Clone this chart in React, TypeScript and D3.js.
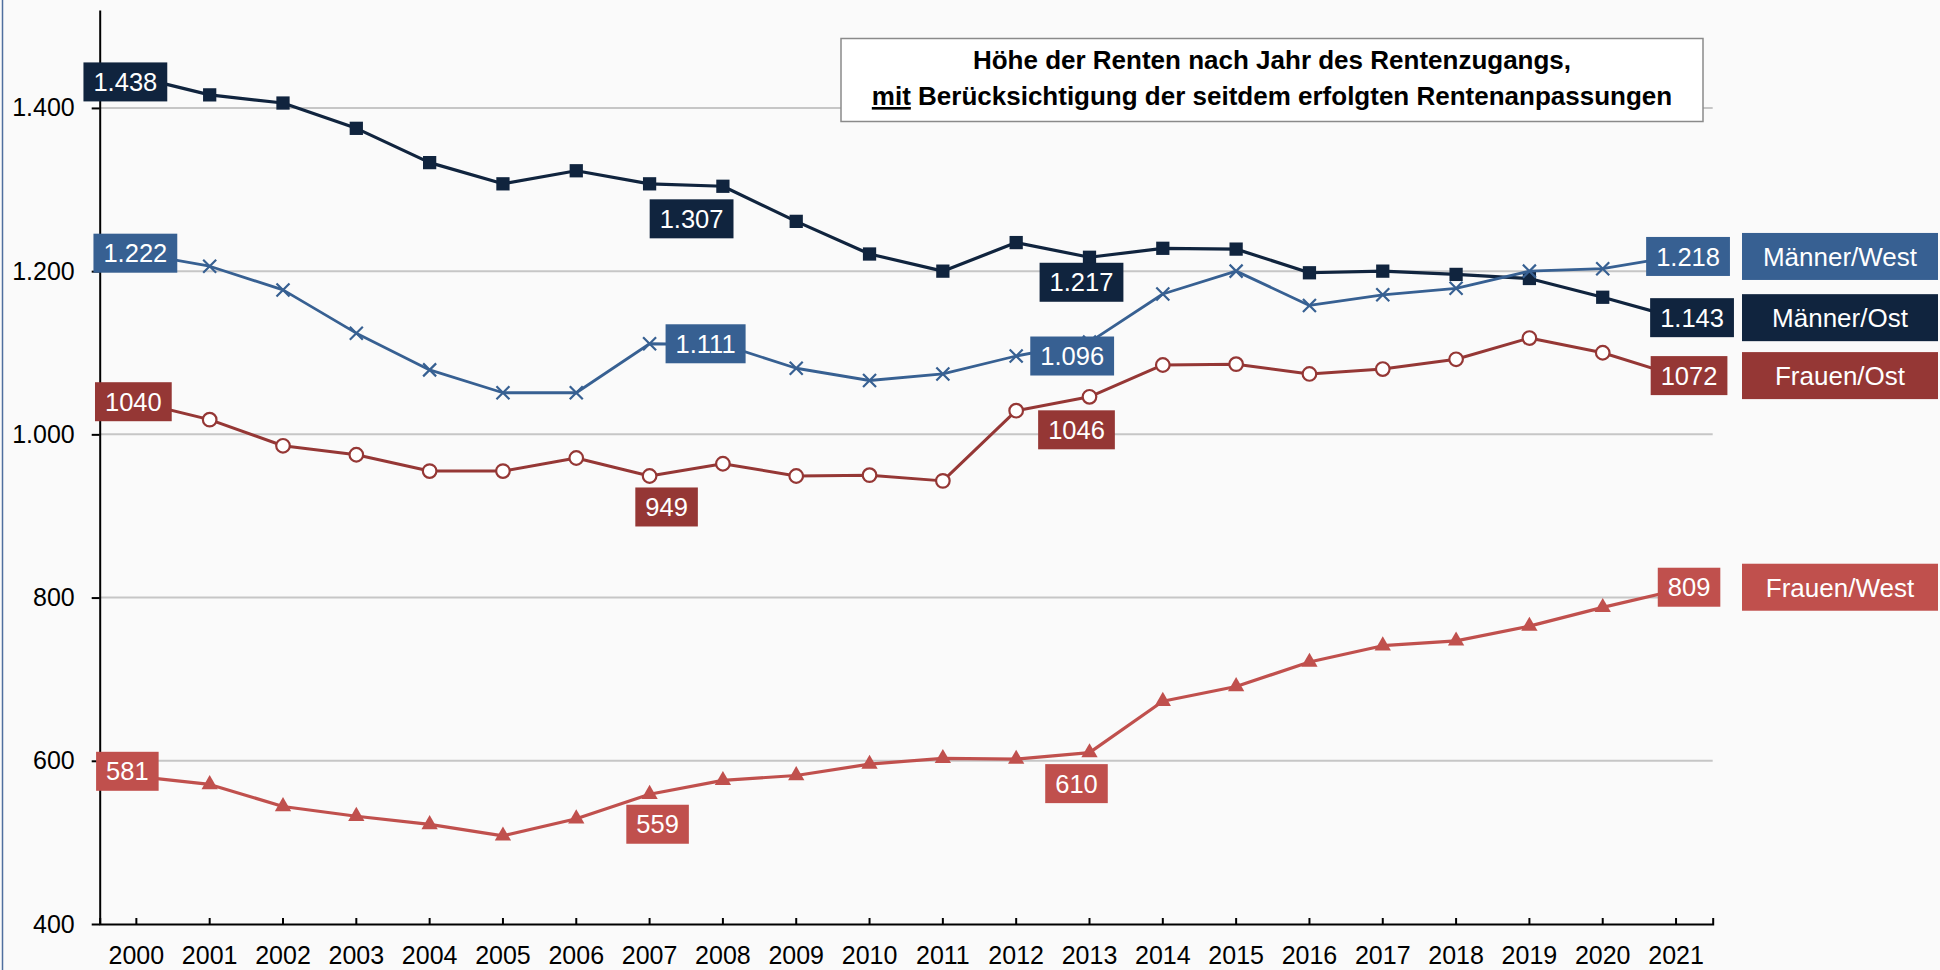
import { useEffect, useRef } from 'react';
import * as d3 from 'd3';

// Rentenzugänge 2000–2021, mit Rentenanpassungen (Euro/Monat)
const YEARS = [
  2000, 2001, 2002, 2003, 2004, 2005, 2006, 2007, 2008, 2009, 2010,
  2011, 2012, 2013, 2014, 2015, 2016, 2017, 2018, 2019, 2020, 2021,
];

const MAENNER_OST = [
  1438, 1416, 1406, 1375, 1333, 1307, 1323, 1307, 1304, 1261, 1221,
  1200, 1235, 1217, 1228, 1227, 1198, 1200, 1196, 1191, 1168, 1143,
];

const MAENNER_WEST = [
  1222, 1206, 1177, 1124, 1079, 1051, 1051, 1111, 1110, 1081, 1066,
  1074, 1096, 1113, 1172, 1200, 1158, 1171, 1179, 1200, 1203, 1218,
];

const FRAUEN_OST = [
  1040, 1018, 986, 975, 955, 955, 971, 949, 964, 949, 950,
  943, 1029, 1046, 1085, 1086, 1074, 1080, 1092, 1118, 1100, 1072,
];

const FRAUEN_WEST = [
  581, 571, 544, 532, 522, 508, 529, 559, 576, 582, 596,
  603, 602, 610, 673, 691, 721, 741, 747, 765, 788, 809,
];

const Y_TICKS = [400, 600, 800, 1000, 1200, 1400];

type Marker = 'square' | 'x' | 'circle' | 'triangle';

interface Series {
  key: string;
  name: string;
  values: number[];
  color: string;
  marker: Marker;
  lineWidth: number;
  grouped: boolean; // thousands separator in labels
}

const SERIES: Series[] = [
  { key: 'fw', name: 'Frauen/West', values: FRAUEN_WEST, color: '#C0504D', marker: 'triangle', lineWidth: 3.2, grouped: false },
  { key: 'fo', name: 'Frauen/Ost', values: FRAUEN_OST, color: '#953735', marker: 'circle', lineWidth: 3, grouped: false },
  { key: 'mo', name: 'Männer/Ost', values: MAENNER_OST, color: '#10243E', marker: 'square', lineWidth: 3.2, grouped: true },
  { key: 'mw', name: 'Männer/West', values: MAENNER_WEST, color: '#376092', marker: 'x', lineWidth: 2.8, grouped: true },
];

// data labels: which point, and how far the box sits from it
const LABELS = [
  { key: 'mo', year: 2000, dx: -11, dy: 5 },
  { key: 'mo', year: 2007, dx: 42, dy: 35 },
  { key: 'mo', year: 2013, dx: -8, dy: 25 },
  { key: 'mo', year: 2021, dx: 16, dy: 0 },
  { key: 'mw', year: 2000, dx: -1, dy: 0 },
  { key: 'mw', year: 2007, dx: 56, dy: 0 },
  { key: 'mw', year: 2012, dx: 56, dy: 0 },
  { key: 'mw', year: 2021, dx: 12, dy: 0 },
  { key: 'fo', year: 2000, dx: -3, dy: 0 },
  { key: 'fo', year: 2007, dx: 17, dy: 31 },
  { key: 'fo', year: 2013, dx: -13, dy: 33 },
  { key: 'fo', year: 2021, dx: 13, dy: 0 },
  { key: 'fw', year: 2000, dx: -9, dy: -5 },
  { key: 'fw', year: 2007, dx: 8, dy: 30 },
  { key: 'fw', year: 2013, dx: -13, dy: 31 },
  { key: 'fw', year: 2021, dx: 13, dy: -3 },
];

const LEGEND_ORDER = ['mw', 'mo', 'fo', 'fw'];

const WIDTH = 1940;
const HEIGHT = 970;
const FONT = '"Liberation Sans", Arial, sans-serif';

const de = d3.formatLocale({ decimal: ',', thousands: '.', grouping: [3], currency: ['', ' €'] });
const fmtGrouped = de.format(',d');
const fmtPlain = d3.format('d');

export default function App() {
  const svgRef = useRef<SVGSVGElement>(null);

  useEffect(() => {
    if (!svgRef.current) return;
    const svg = d3.select(svgRef.current);
    svg.selectAll('*').remove();

    const plot = { left: 99.7, right: 1712.7, top: 10, bottom: 924 };

    const x = d3.scaleBand<string>()
      .domain(YEARS.map(String))
      .range([plot.left, plot.right]);
    const cx = (yr: number) => (x(String(yr)) || 0) + x.bandwidth() / 2;

    const y = d3.scaleLinear().domain([400, 1520]).range([plot.bottom, plot.top]);

    // background
    svg.append('rect')
      .attr('width', WIDTH).attr('height', HEIGHT)
      .attr('fill', '#fafafa');
    svg.append('line')
      .attr('x1', 2.5).attr('x2', 2.5).attr('y1', 0).attr('y2', HEIGHT)
      .attr('stroke', '#4f6f9f').attr('stroke-width', 1.5);

    // grid
    svg.append('g')
      .selectAll('line')
      .data(Y_TICKS.filter(t => t > 400))
      .join('line')
      .attr('x1', plot.left).attr('x2', plot.right)
      .attr('y1', d => y(d)).attr('y2', d => y(d))
      .attr('stroke', '#c6c6c6').attr('stroke-width', 2);

    // title box
    const tb = svg.append('g');
    tb.append('rect')
      .attr('x', 841).attr('y', 38.5).attr('width', 862).attr('height', 83)
      .attr('fill', '#ffffff').attr('stroke', '#8a8a8a').attr('stroke-width', 1.5);
    const t1 = tb.append('text')
      .attr('x', 1272).attr('y', 68.5)
      .attr('text-anchor', 'middle')
      .attr('font-family', FONT).attr('font-size', 26).attr('font-weight', 700)
      .attr('fill', '#000');
    t1.text('Höhe der Renten nach Jahr des Rentenzugangs,');
    const t2 = tb.append('text')
      .attr('x', 1272).attr('y', 105)
      .attr('text-anchor', 'middle')
      .attr('font-family', FONT).attr('font-size', 26).attr('font-weight', 700)
      .attr('fill', '#000');
    t2.append('tspan').attr('text-decoration', 'underline').text('mit');
    t2.append('tspan').text(' Berücksichtigung der seitdem erfolgten Rentenanpassungen');

    // axes
    const yAxis = svg.append('g')
      .attr('transform', `translate(${plot.left},0)`)
      .call(
        d3.axisLeft(y)
          .tickValues(Y_TICKS)
          .tickSize(8)
          .tickSizeOuter(0)
          .tickPadding(17)
          .tickFormat(d => fmtGrouped(d as number))
      );
    yAxis.selectAll('path, line').attr('stroke', '#000').attr('stroke-width', 2);
    yAxis.selectAll('text')
      .attr('font-family', FONT).attr('font-size', 25).attr('fill', '#000');

    const xAxis = svg.append('g')
      .attr('transform', `translate(0,${plot.bottom})`)
      .call(
        d3.axisBottom(x)
          .tickSize(-6)
          .tickSizeOuter(-6)
      );
    xAxis.selectAll('path, line').attr('stroke', '#000').attr('stroke-width', 2);
    xAxis.selectAll('text')
      .attr('font-family', FONT).attr('font-size', 25).attr('fill', '#000')
      .attr('y', 40).attr('dy', null);
    xAxis.attr('font-family', null).attr('font-size', null);
    yAxis.attr('font-family', null).attr('font-size', null);

    // series
    const line = d3.line<number>()
      .x((_, i) => cx(YEARS[i]))
      .y(d => y(d));

    const triangle = d3.symbol().type(d3.symbolTriangle).size(115);
    const square = d3.symbol().type(d3.symbolSquare).size(176);

    SERIES.forEach(s => {
      const g = svg.append('g');
      g.append('path')
        .datum(s.values)
        .attr('d', line)
        .attr('fill', 'none')
        .attr('stroke', s.color)
        .attr('stroke-width', s.lineWidth)
        .attr('stroke-linejoin', 'round');

      const pts = g.selectAll('.pt')
        .data(s.values)
        .join('g')
        .attr('transform', (d, i) => `translate(${cx(YEARS[i])},${y(d)})`);

      if (s.marker === 'square') {
        pts.append('path').attr('d', square()).attr('fill', s.color);
      } else if (s.marker === 'triangle') {
        pts.append('path').attr('d', triangle()).attr('fill', s.color);
      } else if (s.marker === 'circle') {
        pts.append('circle').attr('r', 6.8)
          .attr('fill', '#fff').attr('stroke', s.color).attr('stroke-width', 2.2);
      } else {
        pts.append('path').attr('d', 'M-6.5,-6.5L6.5,6.5M-6.5,6.5L6.5,-6.5')
          .attr('stroke', s.color).attr('stroke-width', 2.2).attr('fill', 'none');
      }
    });

    // data labels
    const labelLayer = svg.append('g');
    const labelCenter: Record<string, number> = {};
    LABELS.forEach(l => {
      const s = SERIES.find(d => d.key === l.key)!;
      const i = YEARS.indexOf(l.year);
      const v = s.values[i];
      const px = cx(l.year) + l.dx;
      const py = y(v) + l.dy;
      if (l.year === YEARS[YEARS.length - 1]) labelCenter[s.key] = py;

      const g = labelLayer.append('g');
      const rect = g.append('rect').attr('fill', s.color);
      const txt = g.append('text')
        .attr('x', px).attr('y', py).attr('dy', '0.36em')
        .attr('text-anchor', 'middle')
        .attr('font-family', FONT).attr('font-size', 25.5)
        .attr('fill', '#fff')
        .text(s.grouped ? fmtGrouped(v) : fmtPlain(v));
      const w = (txt.node() as SVGTextElement).getComputedTextLength() + 20;
      rect.attr('x', px - w / 2).attr('y', py - 19.5).attr('width', w).attr('height', 39);
    });

    // legend boxes at the height of the end labels
    LEGEND_ORDER.forEach(k => {
      const s = SERIES.find(d => d.key === k)!;
      const yc = labelCenter[k];
      svg.append('rect')
        .attr('x', 1742).attr('y', yc - 23.5).attr('width', 196).attr('height', 47)
        .attr('fill', s.color);
      svg.append('text')
        .attr('x', 1840).attr('y', yc).attr('dy', '0.36em')
        .attr('text-anchor', 'middle')
        .attr('font-family', FONT).attr('font-size', 26)
        .attr('fill', '#fff')
        .text(s.name);
    });
  }, []);

  return (
    <svg
      ref={svgRef}
      width={WIDTH}
      height={HEIGHT}
      style={{ position: 'absolute', left: 0, top: 0, display: 'block' }}
    />
  );
}
